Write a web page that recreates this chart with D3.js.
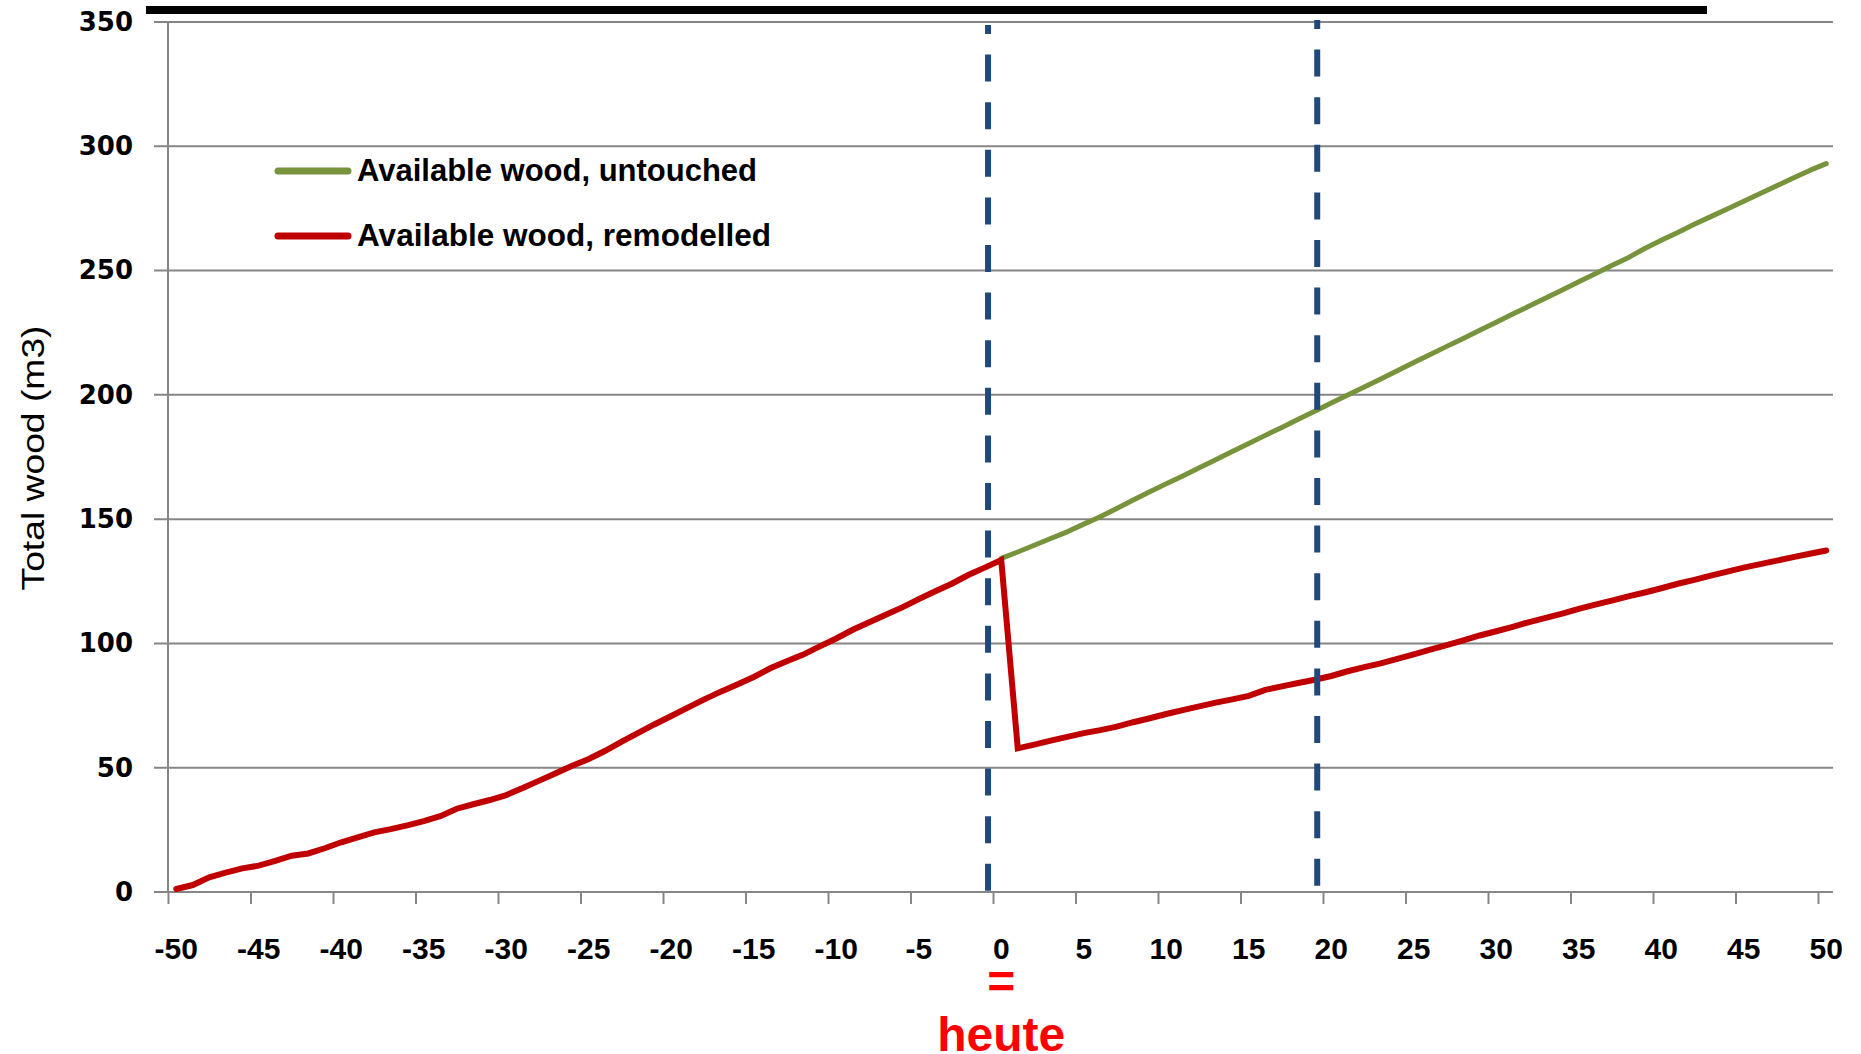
<!DOCTYPE html>
<html>
<head>
<meta charset="utf-8">
<script src="https://cdn.jsdelivr.net/npm/d3@7/dist/d3.min.js"></script>
<style>
  html, body { margin: 0; padding: 0; background: #ffffff; }
  svg { display: block; }
</style>
</head>
<body>
<script>
// ---------- DATA ----------
const yearStart = -50, yearEnd = 50;
const xTickLabels = [-50,-45,-40,-35,-30,-25,-20,-15,-10,-5,0,5,10,15,20,25,30,35,40,45,50];
const yTickLabels = [0,50,100,150,200,250,300,350];

// Available wood, remodelled (years -50 .. 50)
const remodelled = [
  1.2, 2.8, 5.9, 7.8, 9.5, 10.6, 12.5, 14.6, 15.5, 17.6,
  20.0, 22.0, 24.0, 25.3, 26.8, 28.5, 30.5, 33.5, 35.3, 37.0,
  39.0, 41.8, 44.8, 47.8, 50.8, 53.5, 56.8, 60.5, 64.0, 67.5,
  70.8, 74.2, 77.5, 80.6, 83.5, 86.5, 90.0, 92.8, 95.5, 98.8,
  102.0, 105.5, 108.5, 111.5, 114.5, 117.8, 121.0, 124.0, 127.5, 130.5,
  133.6,
  57.8, 59.3, 60.9, 62.4, 63.9, 65.1, 66.5, 68.3, 69.9, 71.6,
  73.2, 74.7, 76.2, 77.5, 78.9, 81.3, 82.7, 84.1, 85.4, 86.9,
  88.8, 90.5, 92.0, 93.8, 95.6, 97.5, 99.3, 101.2, 103.2, 104.9,
  106.7, 108.6, 110.3, 112.0, 113.9, 115.6, 117.2, 118.9, 120.5, 122.2,
  124.0, 125.6, 127.3, 128.9, 130.5, 131.9, 133.3, 134.7, 136.1, 137.4
];

// Available wood, untouched (years 0 .. 50)
const untouchedStart = 0;
const untouched = [
  134.2,
  136.8, 139.5, 142.2, 144.9, 148.0, 151.0, 154.3, 157.7, 161.0, 164.2,
  167.4, 170.7, 173.9, 177.2, 180.4, 183.7, 186.9, 190.2, 193.4, 196.7,
  199.9, 203.2, 206.4, 209.7, 213.0, 216.2, 219.5, 222.7, 226.0, 229.2,
  232.5, 235.7, 239.0, 242.2, 245.5, 248.7, 252.0, 255.2, 258.9, 262.2,
  265.3, 268.6, 271.7, 274.8, 277.9, 281.0, 284.1, 287.2, 290.3, 293.0
];

// vertical dashed markers (year positions)
const markers = [-0.8, 19.15];

const seriesNames = ["Available wood, untouched", "Available wood, remodelled"];
const seriesColors = ["#77933C", "#C00000"];
const yTitle = "Total wood (m3)";
const noteLines = ["=", "heute"];

// ---------- CHART ----------
const W = 1861, H = 1054;
const svg = d3.select("body").append("svg")
  .attr("width", W).attr("height", H)
  .style("background", "#fff");

const x = d3.scaleLinear().domain([yearStart - 0.5, yearEnd + 0.5]).range([168, 1834.5]);
const y = d3.scaleLinear().domain([0, 350]).range([892, 22]);

const gridColor = "#868686";

// title underline bar (title itself cropped off in the reference)
svg.append("rect").attr("x", 146).attr("y", 6).attr("width", 1561).attr("height", 8).attr("fill", "#000");

// gridlines
svg.append("g").selectAll("line").data(yTickLabels).join("line")
  .attr("x1", 154).attr("x2", 1833)
  .attr("y1", d => y(d)).attr("y2", d => y(d))
  .attr("stroke", gridColor).attr("stroke-width", 2);

// y axis line
svg.append("line").attr("x1", 168).attr("x2", 168).attr("y1", y(350)).attr("y2", y(0))
  .attr("stroke", gridColor).attr("stroke-width", 2);

// y axis labels
const yAxis = d3.axisLeft(y).tickValues(yTickLabels).tickSize(0).tickPadding(35);
const gy = svg.append("g").attr("transform", "translate(168,0)").call(yAxis);
gy.select(".domain").remove();
gy.selectAll("text")
  .attr("font-family", "'DejaVu Sans', sans-serif")
  .attr("font-weight", "bold")
  .attr("font-size", 26)
  .attr("fill", "#000");

// x axis ticks (between categories)
const tickBounds = xTickLabels.map(v => v - 0.5);
const xAxis = d3.axisBottom(x).tickValues(tickBounds).tickSize(12).tickFormat("");
const gx = svg.append("g").attr("transform", "translate(0,892)").call(xAxis);
gx.select(".domain").remove();
gx.selectAll("line").attr("stroke", gridColor).attr("stroke-width", 2);
svg.append("line").attr("x1", 154).attr("x2", 1833).attr("y1", 892).attr("y2", 892)
  .attr("stroke", gridColor).attr("stroke-width", 2);

// x labels
svg.append("g").selectAll("text").data(xTickLabels).join("text")
  .attr("x", d => x(d)).attr("y", 959)
  .attr("text-anchor", "middle")
  .attr("font-family", "'Liberation Sans', Arial, sans-serif")
  .attr("font-weight", "bold")
  .attr("font-size", 30)
  .attr("fill", "#000")
  .text(d => d);

// y title
svg.append("text")
  .attr("transform", "translate(44,458) rotate(-90)")
  .attr("text-anchor", "middle")
  .attr("font-family", "'Liberation Sans', Arial, sans-serif")
  .attr("font-size", 32)
  .attr("textLength", 265)
  .attr("lengthAdjust", "spacingAndGlyphs")
  .attr("fill", "#000")
  .text(yTitle);

// series lines
const remData = remodelled.map((v, i) => ({ year: yearStart + i, value: v }));
const untData = untouched.map((v, i) => ({ year: untouchedStart + i, value: v }));
const line = d3.line().x(d => x(d.year)).y(d => y(d.value));

svg.append("path").datum(untData)
  .attr("d", line).attr("fill", "none")
  .attr("stroke", seriesColors[0]).attr("stroke-width", 5)
  .attr("stroke-linejoin", "round").attr("stroke-linecap", "round");

svg.append("path").datum(remData)
  .attr("d", line).attr("fill", "none")
  .attr("stroke", seriesColors[1]).attr("stroke-width", 6)
  .attr("stroke-linejoin", "miter").attr("stroke-linecap", "round");

// dashed markers
const markerTops = [25, 20];
const markerBottoms = [892, 887];
svg.append("g").selectAll("line").data(markers).join("line")
  .attr("x1", d => x(d)).attr("x2", d => x(d))
  .attr("y1", (d, i) => markerTops[i]).attr("y2", (d, i) => markerBottoms[i])
  .attr("stroke", "#1F497D").attr("stroke-width", 6)
  .attr("stroke-dasharray", "27,20.6").attr("stroke-dashoffset", 18);

// legend
const legendY = [171, 236];
const legendTextLen = [400, 414];
const lg = svg.append("g");
lg.selectAll("line").data(seriesNames).join("line")
  .attr("x1", 278).attr("x2", 348)
  .attr("y1", (d, i) => legendY[i]).attr("y2", (d, i) => legendY[i])
  .attr("stroke", (d, i) => seriesColors[i]).attr("stroke-width", 7)
  .attr("stroke-linecap", "round");
lg.selectAll("text").data(seriesNames).join("text")
  .attr("x", 357).attr("y", (d, i) => legendY[i] + 10)
  .attr("font-family", "'Liberation Sans', Arial, sans-serif")
  .attr("font-weight", "bold")
  .attr("font-size", 31)
  .attr("textLength", (d, i) => legendTextLen[i])
  .attr("lengthAdjust", "spacingAndGlyphs")
  .attr("fill", "#000")
  .text(d => d);

// "= heute" note
svg.append("g").selectAll("text").data(noteLines).join("text")
  .attr("x", x(0)).attr("y", (d, i) => i === 0 ? 998 : 1051)
  .attr("text-anchor", "middle")
  .attr("font-family", "'Liberation Sans', Arial, sans-serif")
  .attr("font-weight", "bold")
  .attr("font-size", 48)
  .attr("fill", "#FF0000")
  .text(d => d);
</script>
</body>
</html>
